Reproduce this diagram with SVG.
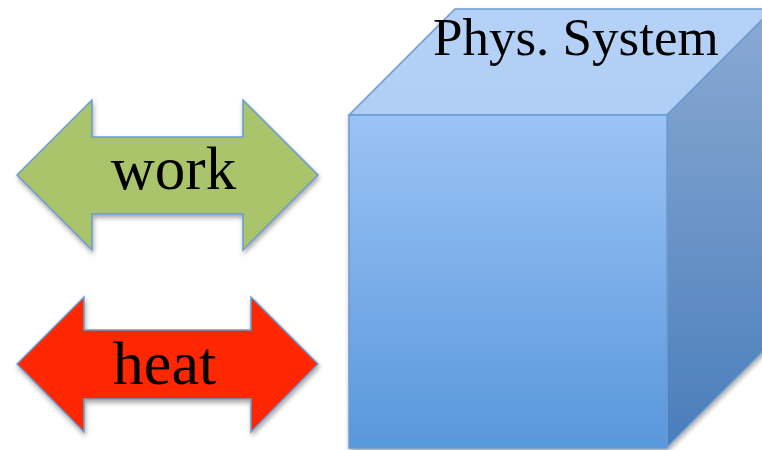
<svg xmlns="http://www.w3.org/2000/svg" width="762" height="450" viewBox="0 0 762 450">
<defs>
<linearGradient id="gFront" x1="0" y1="0" x2="0" y2="1">
<stop offset="0" stop-color="#9cc3f5"/>
<stop offset="1" stop-color="#5897dc"/>
</linearGradient>
<linearGradient id="gRight" x1="0" y1="0" x2="0" y2="1">
<stop offset="0" stop-color="#8aaad3"/>
<stop offset="1" stop-color="#4a7dbb"/>
</linearGradient>
<linearGradient id="gTop" x1="0" y1="0" x2="0" y2="1">
<stop offset="0" stop-color="#b5d1f7"/>
<stop offset="1" stop-color="#b0cef5"/>
</linearGradient>
<filter id="shadow" x="-10%" y="-10%" width="125%" height="130%">
<feGaussianBlur in="SourceAlpha" stdDeviation="2.5"/>
<feOffset dx="1" dy="3" result="b"/>
<feComponentTransfer><feFuncA type="linear" slope="0.35"/></feComponentTransfer>
<feMerge><feMergeNode/><feMergeNode in="SourceGraphic"/></feMerge>
</filter>
</defs>
<style>
.edge{stroke:#6a9ad3;stroke-width:1.5;stroke-linejoin:miter}
.lbl{font-family:"Liberation Serif","Times New Roman",serif;fill:#000}
</style>
<g id="system" filter="url(#shadow)">
<polygon class="edge" points="349,115 455,9 773,9 667,115" fill="url(#gTop)"/>
<polygon class="edge" points="667,115 773,9 773,341 667,447" fill="url(#gRight)"/>
<rect class="edge" x="349" y="115" width="318" height="333" fill="url(#gFront)"/>
<text class="lbl" x="433" y="55" font-size="53">Phys. System</text>
</g>
<g id="work" filter="url(#shadow)">
<polygon class="edge" points="17,175 92,100 92,137 243,137 243,100 318,175 243,250 243,214 92,214 92,250" fill="#a9c46a"/>
<text class="lbl" x="173.5" y="189" font-size="61" text-anchor="middle">work</text>
</g>
<g id="heat" filter="url(#shadow)">
<polygon class="edge" points="17,364 84,297 84,330 251,330 251,297 318,364 251,432 251,399 84,399 84,432" fill="#ff2600"/>
<text class="lbl" x="164.5" y="384" font-size="62" text-anchor="middle">heat</text>
</g>
<g id="connectors"/>
</svg>
